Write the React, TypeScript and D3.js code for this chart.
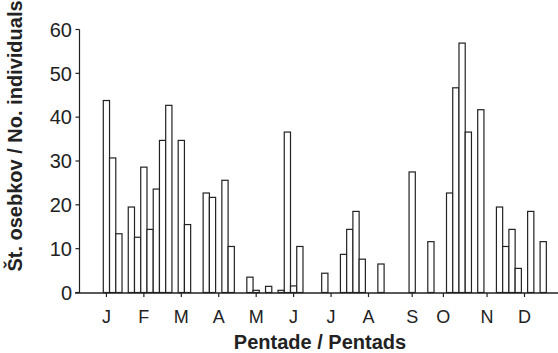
import * as d3 from "d3";

// counts per pentade (73 pentades in the year)
const pentadeCounts = [
  43.8, 30.7, 13.4, 0, 19.5, 12.6, 28.6, 14.4, 23.6, 34.7,
  42.7, 0, 34.7, 15.5, 0, 0, 22.7, 21.7, 0, 25.6,
  10.5, 0, 0, 3.5, 0.5, 0, 1.4, 0, 0.5, 36.6,
  1.5, 10.5, 0, 0, 0, 4.4, 0, 0, 8.7, 14.4,
  18.5, 7.6, 0, 0, 6.5, 0, 0, 0, 0, 27.5,
  0, 0, 11.6, 0, 0, 22.7, 46.7, 56.9, 36.6, 0,
  41.7, 0, 0, 19.5, 10.5, 14.4, 5.5, 0, 18.5, 0,
  11.6, 0, 0,
];
const monthLabels = ["J", "F", "M", "A", "M", "J", "J", "A", "S", "O", "N", "D"];
const monthPentade = [0, 6, 12, 18, 24, 30, 36, 42, 49, 54, 61, 67];
const yTicks = [0, 10, 20, 30, 40, 50, 60];

const W = 558;
const H = 353;
const ink = "#222";

export default function App() {
  const idx = d3.range(pentadeCounts.length);
  const x = d3.scaleBand<number>().domain(idx).range([103.3, 103.3 + 6.24 * 73]).padding(0);
  const y = d3.scaleLinear().domain([0, 60]).range([292.5, 29.5]);
  const axisX = 79.5;
  const baseY = 293;

  return (
    <>
      <style>{`body{margin:0}`}</style>
      <svg width={W} height={H} style={{ display: "block", fontFamily: "'Liberation Sans', Arial, sans-serif" }}>
        {/* bars */}
        {idx.filter(i => pentadeCounts[i] > 0).map(i => (
          <rect
            key={i}
            x={x(i)}
            y={y(pentadeCounts[i])}
            width={x.bandwidth()}
            height={y(0) - y(pentadeCounts[i])}
            fill="#fff"
            stroke={ink}
            strokeWidth={1.2}
          />
        ))}

        {/* y axis */}
        <line x1={axisX} x2={axisX} y1={y(60)} y2={baseY} stroke={ink} strokeWidth={1.2} />
        {yTicks.map(t => (
          <g key={t}>
            <line x1={axisX - 4} x2={axisX} y1={y(t)} y2={y(t)} stroke={ink} strokeWidth={1.2} />
            <text x={72} y={y(t)} dy="0.36em" textAnchor="end" fontSize={20} fill={ink}>{t}</text>
          </g>
        ))}

        {/* x axis */}
        <line x1={75} x2={W} y1={baseY} y2={baseY} stroke={ink} strokeWidth={1.4} />
        {monthLabels.map((m, i) => {
          const cx = (x(monthPentade[i]) || 0) + x.bandwidth() / 2;
          return (
            <g key={i}>
              <line x1={cx} x2={cx} y1={baseY} y2={baseY + 4} stroke={ink} strokeWidth={1.2} />
              <text x={cx} y={323} textAnchor="middle" fontSize={18} fill={ink}>{m}</text>
            </g>
          );
        })}

        {/* titles */}
        <text x={320} y={349} textAnchor="middle" fontSize={20} fontWeight="bold" fill={ink}>
          Pentade / Pentads
        </text>
        <text
          transform={`translate(22,136) rotate(-90)`}
          textAnchor="middle"
          fontSize={20}
          fontWeight="bold"
          fill={ink}
        >
          Št. osebkov / No. individuals
        </text>
      </svg>
    </>
  );
}
